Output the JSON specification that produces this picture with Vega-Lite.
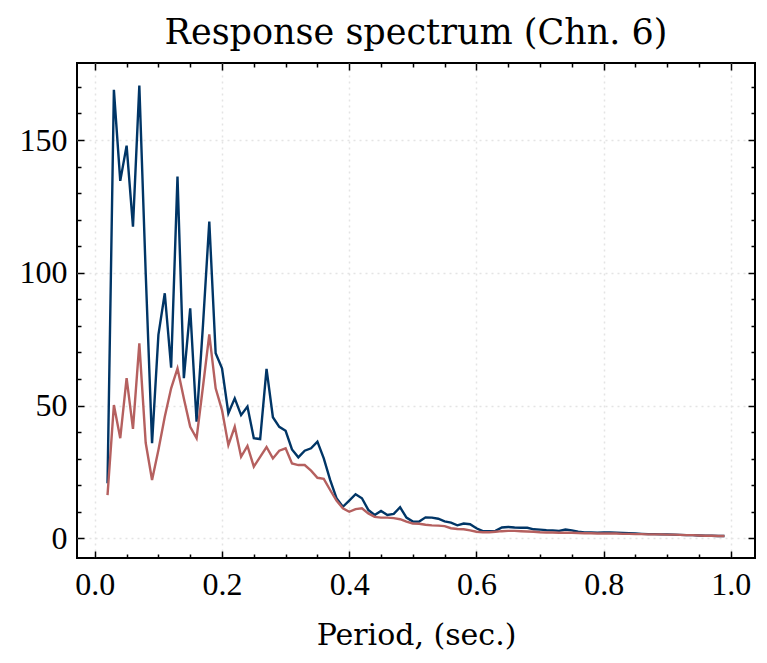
{
  "$schema": "https://vega.github.io/schema/vega-lite/v6.json",
  "width": 678,
  "height": 495,
  "autosize": {"type": "none"},
  "padding": {"left": 77, "top": 63, "right": 12, "bottom": 105},
  "background": "white",
  "title": {"text": "Response spectrum (Chn. 6)", "font": "DejaVu Serif", "fontSize": 35, "fontWeight": "normal", "color": "#000000", "offset": 11},
  "config": {
    "view": {"stroke": "#000000", "strokeWidth": 2},
    "axis": {
      "domain": false,
      "tickColor": "#000000",
      "tickWidth": 1.5,
      "labelFont": "Liberation Serif",
      "labelFontSize": 32,
      "labelColor": "#000000",
      "labelOverlap": false,
      "labelFlush": false,
      "titleFont": "DejaVu Serif",
      "titleFontSize": 30,
      "titleFontWeight": "normal",
      "titleColor": "#000000",
      "gridColor": "#e4e4e4",
      "gridDash": [2, 4],
      "gridWidth": 1.5
    }
  },
  "data": {"values": [
    {"period": 0.02, "a": 20.7, "b": 16.3},
    {"period": 0.03, "a": 168.9, "b": 50.2},
    {"period": 0.04, "a": 134.6, "b": 37.7},
    {"period": 0.05, "a": 147.9, "b": 60.3},
    {"period": 0.06, "a": 117.4, "b": 41.2},
    {"period": 0.07, "a": 170.5, "b": 73.4},
    {"period": 0.08, "a": 100.0, "b": 36.0},
    {"period": 0.09, "a": 35.8, "b": 22.0},
    {"period": 0.10, "a": 76.6, "b": 33.3},
    {"period": 0.11, "a": 92.3, "b": 45.8},
    {"period": 0.12, "a": 64.3, "b": 56.5},
    {"period": 0.13, "a": 136.2, "b": 64.0},
    {"period": 0.14, "a": 60.3, "b": 52.7},
    {"period": 0.15, "a": 86.6, "b": 42.0},
    {"period": 0.16, "a": 43.9, "b": 37.7},
    {"period": 0.17, "a": 80.0, "b": 57.0},
    {"period": 0.18, "a": 119.3, "b": 76.8},
    {"period": 0.19, "a": 69.7, "b": 56.5},
    {"period": 0.20, "a": 64.0, "b": 48.3},
    {"period": 0.21, "a": 47.1, "b": 35.1},
    {"period": 0.22, "a": 52.7, "b": 42.0},
    {"period": 0.23, "a": 46.4, "b": 30.7},
    {"period": 0.24, "a": 49.6, "b": 34.8},
    {"period": 0.25, "a": 37.7, "b": 27.0},
    {"period": 0.26, "a": 37.4, "b": 30.7},
    {"period": 0.27, "a": 63.8, "b": 34.4},
    {"period": 0.28, "a": 45.6, "b": 30.1},
    {"period": 0.29, "a": 42.0, "b": 33.0},
    {"period": 0.30, "a": 40.5, "b": 33.9},
    {"period": 0.31, "a": 33.5, "b": 28.2},
    {"period": 0.32, "a": 30.5, "b": 27.6},
    {"period": 0.33, "a": 33.0, "b": 27.6},
    {"period": 0.34, "a": 33.9, "b": 25.5},
    {"period": 0.35, "a": 36.4, "b": 22.8},
    {"period": 0.36, "a": 30.1, "b": 22.4},
    {"period": 0.37, "a": 22.0, "b": 18.2},
    {"period": 0.38, "a": 15.1, "b": 14.2},
    {"period": 0.39, "a": 11.9, "b": 11.3},
    {"period": 0.40, "a": 14.2, "b": 10.0},
    {"period": 0.41, "a": 16.6, "b": 11.0},
    {"period": 0.42, "a": 15.1, "b": 11.3},
    {"period": 0.43, "a": 10.7, "b": 9.4},
    {"period": 0.44, "a": 8.8, "b": 8.1},
    {"period": 0.45, "a": 10.3, "b": 7.8},
    {"period": 0.46, "a": 8.8, "b": 7.8},
    {"period": 0.47, "a": 9.2, "b": 7.6},
    {"period": 0.48, "a": 11.7, "b": 7.2},
    {"period": 0.49, "a": 7.8, "b": 6.3},
    {"period": 0.50, "a": 6.3, "b": 5.6},
    {"period": 0.51, "a": 6.3, "b": 5.5},
    {"period": 0.52, "a": 7.9, "b": 5.1},
    {"period": 0.53, "a": 7.8, "b": 4.9},
    {"period": 0.54, "a": 7.4, "b": 4.8},
    {"period": 0.55, "a": 6.4, "b": 4.6},
    {"period": 0.56, "a": 5.9, "b": 3.8},
    {"period": 0.57, "a": 4.9, "b": 3.5},
    {"period": 0.58, "a": 5.6, "b": 3.4},
    {"period": 0.59, "a": 5.3, "b": 3.0},
    {"period": 0.60, "a": 3.8, "b": 2.5},
    {"period": 0.61, "a": 2.7, "b": 2.3},
    {"period": 0.62, "a": 2.7, "b": 2.3},
    {"period": 0.63, "a": 2.8, "b": 2.5},
    {"period": 0.64, "a": 4.1, "b": 2.7},
    {"period": 0.65, "a": 4.3, "b": 2.8},
    {"period": 0.66, "a": 4.1, "b": 2.8},
    {"period": 0.67, "a": 4.0, "b": 2.7},
    {"period": 0.68, "a": 4.0, "b": 2.6},
    {"period": 0.69, "a": 3.4, "b": 2.5},
    {"period": 0.70, "a": 3.3, "b": 2.3},
    {"period": 0.71, "a": 3.1, "b": 2.2},
    {"period": 0.72, "a": 3.0, "b": 2.2},
    {"period": 0.73, "a": 2.8, "b": 2.1},
    {"period": 0.74, "a": 3.3, "b": 2.1},
    {"period": 0.75, "a": 3.0, "b": 2.1},
    {"period": 0.76, "a": 2.5, "b": 2.0},
    {"period": 0.77, "a": 2.2, "b": 1.9},
    {"period": 0.78, "a": 2.2, "b": 1.9},
    {"period": 0.79, "a": 2.1, "b": 1.8},
    {"period": 0.80, "a": 2.2, "b": 1.8},
    {"period": 0.81, "a": 2.2, "b": 1.8},
    {"period": 0.82, "a": 2.1, "b": 1.8},
    {"period": 0.83, "a": 2.0, "b": 1.7},
    {"period": 0.84, "a": 1.9, "b": 1.7},
    {"period": 0.85, "a": 1.8, "b": 1.6},
    {"period": 0.86, "a": 1.7, "b": 1.6},
    {"period": 0.87, "a": 1.6, "b": 1.5},
    {"period": 0.88, "a": 1.6, "b": 1.5},
    {"period": 0.89, "a": 1.5, "b": 1.5},
    {"period": 0.90, "a": 1.5, "b": 1.4},
    {"period": 0.91, "a": 1.4, "b": 1.4},
    {"period": 0.92, "a": 1.3, "b": 1.3},
    {"period": 0.93, "a": 1.2, "b": 1.2},
    {"period": 0.94, "a": 1.2, "b": 1.2},
    {"period": 0.95, "a": 1.1, "b": 1.1},
    {"period": 0.96, "a": 1.0, "b": 1.0},
    {"period": 0.97, "a": 1.0, "b": 1.0},
    {"period": 0.98, "a": 0.9, "b": 0.9},
    {"period": 0.99, "a": 0.9, "b": 0.9}
  ]},
  "layer": [
    {
      "mark": {"type": "line", "color": "#003566", "strokeWidth": 2.4},
      "encoding": {
        "x": {
          "field": "period", "type": "quantitative",
          "scale": {"domain": [-0.028, 1.038], "nice": false, "zero": false},
          "axis": {
            "orient": "bottom",
            "title": "Period, (sec.)",
            "titlePadding": 17,
            "values": [0, 0.05, 0.1, 0.15, 0.2, 0.25, 0.3, 0.35, 0.4, 0.45, 0.5, 0.55, 0.6, 0.65, 0.7, 0.75, 0.8, 0.85, 0.9, 0.95, 1],
            "labelExpr": "abs(datum.value*5 - round(datum.value*5)) < 0.000001 ? format(datum.value, '.1f') : ''",
            "tickSize": {"condition": {"test": "abs(datum.value*5 - round(datum.value*5)) < 0.000001", "value": -7}, "value": -4},
            "labelPadding": 18,
            "grid": true,
            "gridOpacity": {"condition": {"test": "abs(datum.value*5 - round(datum.value*5)) < 0.000001", "value": 1}, "value": 0}
          }
        },
        "y": {
          "field": "a", "type": "quantitative",
          "scale": {"domain": [-7.4, 179], "nice": false, "zero": false},
          "axis": {
            "orient": "left",
            "title": null,
            "values": [0, 10, 20, 30, 40, 50, 60, 70, 80, 90, 100, 110, 120, 130, 140, 150, 160, 170],
            "labelExpr": "datum.value % 50 === 0 ? format(datum.value, 'd') : ''",
            "tickSize": {"condition": {"test": "datum.value % 50 === 0", "value": -7}, "value": -4},
            "labelPadding": 17,
            "grid": true,
            "gridOpacity": {"condition": {"test": "datum.value % 50 === 0", "value": 1}, "value": 0}
          }
        }
      }
    },
    {
      "mark": {"type": "line", "color": "#b5605f", "strokeWidth": 2.4},
      "encoding": {
        "x": {
          "field": "period", "type": "quantitative",
          "axis": {
            "orient": "top",
            "title": null,
            "labels": false,
            "grid": false,
            "values": [0, 0.05, 0.1, 0.15, 0.2, 0.25, 0.3, 0.35, 0.4, 0.45, 0.5, 0.55, 0.6, 0.65, 0.7, 0.75, 0.8, 0.85, 0.9, 0.95, 1],
            "tickSize": {"condition": {"test": "abs(datum.value*5 - round(datum.value*5)) < 0.000001", "value": -7}, "value": -4}
          }
        },
        "y": {
          "field": "b", "type": "quantitative",
          "axis": {
            "orient": "right",
            "title": null,
            "labels": false,
            "grid": false,
            "values": [0, 10, 20, 30, 40, 50, 60, 70, 80, 90, 100, 110, 120, 130, 140, 150, 160, 170],
            "tickSize": {"condition": {"test": "datum.value % 50 === 0", "value": -7}, "value": -4}
          }
        }
      }
    }
  ],
  "resolve": {"axis": {"x": "independent", "y": "independent"}}
}
